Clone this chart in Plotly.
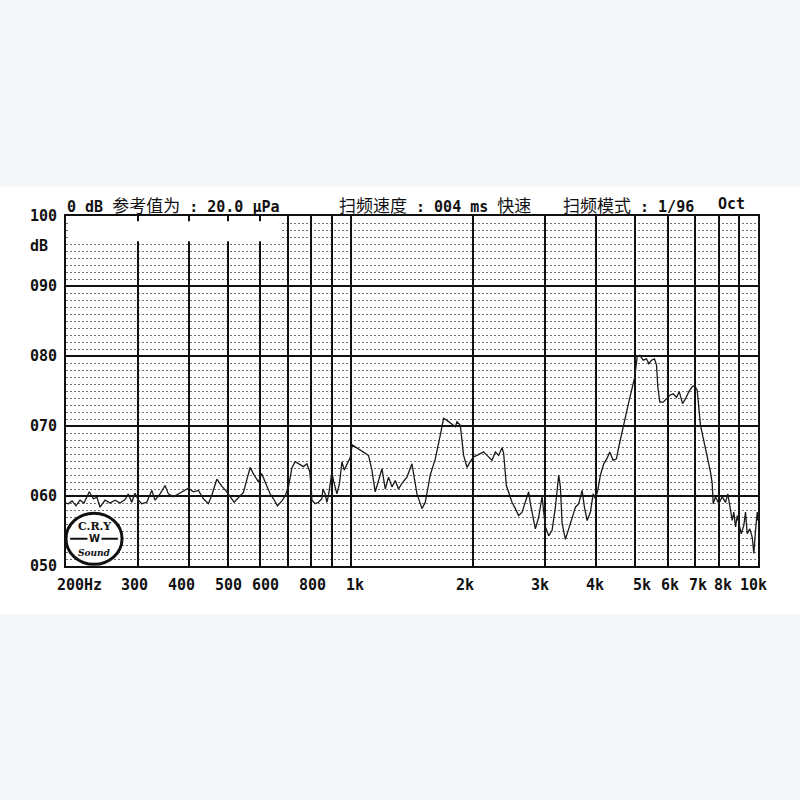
import math
import plotly.graph_objects as go

# ---------------- data ----------------
freq_hz = [
    200, 202.6, 206.9, 211.6, 216.5, 221.4, 228.2, 233.4, 238.3, 242.4,
    249.4, 256.5, 263.9, 271.5, 279.3, 284.5, 290.0, 295.5, 301.1, 306.9,
    315.7, 324.8, 330.9, 340.4, 350.2, 356.8, 367.0, 377.5, 388.4, 399.5,
    411.0, 422.7, 434.9, 447.3, 456.0, 469.1, 482.6, 496.4, 510.6, 517.3,
    545.3, 556.8, 566.4, 575.1, 582.6, 593.6, 604.4, 613.1, 622.5, 634.2,
    646.2, 661.0, 677.7, 690.4, 703.5, 717.1, 730.6, 751.6, 765.8, 780.7,
    793.2, 799.8, 803.0, 818.2, 833.6, 849.8, 854.6, 865.8, 874.1, 882.1,
    899.2, 907.4, 916.1, 925.0, 938.7, 951.5, 964.0, 978.8, 997.3, 1008.6,
    1025.9, 1055.3, 1085.6, 1106.1, 1127.5, 1148.8, 1170.5, 1193.2, 1215.7, 1238.6,
    1262.6, 1286.4, 1310.7, 1336.1, 1374.5, 1413.9, 1426.8, 1454.5, 1496.2, 1524.5,
    1568.2, 1613.2, 1659.5, 1690.8, 1723.6, 1773.0, 1806.4, 1823.9, 1858.3, 1893.3,
    1930.1, 1966.3, 2003.4, 2042.4, 2080.8, 2120.0, 2161.2, 2223.2, 2265.2, 2307.9,
    2352.6, 2374.0, 2410.6, 2442.2, 2489.6, 2536.6, 2584.4, 2634.6, 2684.2, 2735.0,
    2761.4, 2813.4, 2840.6, 2894.2, 2950.4, 3006.0, 3062.8, 3122.2, 3181.0, 3241.0,
    3272.4, 3304.0, 3366.4, 3429.8, 3496.4, 3562.4, 3629.4, 3699.8, 3748.4, 3806.0,
    3877.8, 3937.6, 3989.2, 4041.4, 4103.6, 4181.0, 4262.2, 4325.4, 4409.4, 4492.6,
    4551.4, 4639.8, 4727.4, 4816.6, 4910.0, 4982.8, 5051.0, 5126.0, 5225.6, 5324.2,
    5394.0, 5477.0, 5570.8, 5634.2, 5675.6, 5740.2, 5851.8, 5962.2, 6074.6, 6192.6,
    6309.4, 6406.6, 6527.4, 6639.2, 6764.4, 6895.6, 6982.8, 7090.4, 7154.8, 7224.0,
    7360.2, 7503.2, 7644.8, 7718.6, 7762.4, 7864.2, 8012.4, 8168, 8322, 8431,
    8527, 8644, 8722, 8807, 8892, 8973, 9095, 9230, 9319, 9409,
    9549, 9679, 9767, 9862, 9957, 10000,
]
level_db = [
    59.0, 58.9, 59.3, 58.6, 59.4, 59.0, 60.6, 59.6, 59.8, 58.4,
    59.4, 59.0, 59.4, 59.0, 59.5, 60.3, 59.1, 60.4, 59.4, 58.9,
    59.1, 60.8, 59.4, 60.3, 61.5, 60.3, 59.9, 60.3, 60.6, 61.1,
    60.6, 60.8, 59.6, 58.9, 60.1, 62.4, 61.4, 60.6, 59.6, 59.1,
    60.5, 62.7, 64.1, 63.3, 62.7, 62.0, 63.2, 62.3, 61.4, 60.3,
    59.6, 58.6, 59.3, 60.0, 61.3, 64.0, 64.9, 64.5, 64.2, 64.6,
    63.5, 61.3, 59.4, 58.9, 59.1, 59.6, 61.0, 60.3, 59.1, 60.1,
    63.4, 62.2, 61.3, 60.3, 61.8, 64.9, 63.7, 64.6, 65.5, 67.3,
    67.0, 66.5, 66.1, 65.8, 63.7, 60.6, 62.2, 63.9, 61.0, 62.7,
    61.3, 62.2, 61.0, 61.8, 62.7, 64.6, 63.2, 60.3, 58.2, 59.1,
    63.0, 65.3, 68.7, 71.1, 70.8, 70.3, 69.9, 70.6, 70.1, 65.8,
    64.1, 64.9, 65.6, 65.8, 66.1, 66.3, 65.8, 65.1, 66.3, 65.8,
    66.9, 66.1, 61.5, 60.5, 59.1, 58.2, 57.2, 57.7, 59.1, 60.6,
    58.9, 56.1, 55.3, 57.0, 59.9, 55.6, 54.3, 55.1, 58.4, 63.0,
    61.3, 56.1, 53.8, 55.3, 57.0, 58.4, 58.9, 60.8, 58.4, 56.5,
    57.7, 60.3, 59.6, 60.8, 63.0, 64.6, 65.4, 66.3, 65.1, 65.3,
    67.0, 69.4, 71.3, 73.4, 75.3, 77.0, 79.9, 80.1, 79.4, 79.6,
    78.9, 79.4, 79.6, 78.7, 75.6, 73.4, 73.4, 73.9, 74.4, 74.6,
    74.1, 74.9, 73.2, 73.9, 74.9, 75.6, 75.8, 75.1, 72.7, 70.1,
    67.9, 65.8, 63.4, 61.8, 58.9, 59.9, 58.9, 59.9, 59.1, 60.3,
    58.4, 56.5, 57.7, 55.6, 57.2, 56.3, 54.6, 55.8, 57.7, 54.6,
    55.3, 54.1, 51.8, 55.1, 57.7, 56.5,
]

x_grid_hz = [200, 300, 400, 500, 600, 700, 800, 900,
             1000, 2000, 3000, 4000, 5000, 6000, 7000, 8000, 9000, 10000]
x_label_hz = [200, 300, 400, 500, 600, 800, 1000, 2000, 3000, 4000,
              5000, 6000, 7000, 8000, 10000]
x_label_text = ["200Hz", "300", "400", "500", "600", "800", "1k", "2k", "3k", "4k",
                "5k", "6k", "7k", "8k", "10k"]
y_tick_vals = [50, 60, 70, 80, 90, 100]
y_tick_text = ["050", "060", "070", "080", "090", "100"]

# ---------------- styling ----------------
MONO = "DejaVu Sans Mono, Liberation Mono, monospace"
CJK_SPAN = "<span style=\"font-size:17px;font-weight:normal;font-family:'Noto Sans CJK SC'\">{}</span>"
label_font = dict(family=MONO, size=15, color="#111111", weight="bold")
label_xshift = {200: 13, 300: -3, 400: -7, 500: 0, 600: 5, 800: 1, 1000: 4,
                2000: -8, 3000: -5, 4000: -1, 5000: 7, 6000: 2, 7000: 3,
                8000: 4, 10000: -5}

fig = go.Figure()
fig.add_trace(go.Scatter(
    x=freq_hz, y=level_db, mode="lines",
    line=dict(color="#1a1a1a", width=1.3),
    hoverinfo="skip", showlegend=False,
))

annotations = []
for hz, txt in zip(x_label_hz, x_label_text):
    annotations.append(dict(
        x=math.log10(hz), xref="x", y=0, yref="paper", yshift=-19,
        text=txt, showarrow=False, xanchor="center", yanchor="middle",
        xshift=label_xshift[hz], font=label_font,
    ))

annotations.append(dict(x=-0.055, xref="paper", y=0.913, yref="paper", text="dB",
                        showarrow=False, xanchor="left", yanchor="middle", font=label_font))

header = [
    (-0.002, "0 dB " + CJK_SPAN.format("参考值为") + " : 20.0 μPa"),
    (0.391, CJK_SPAN.format("扫频速度") + " : 004 ms " + CJK_SPAN.format("快速")),
    (0.716, CJK_SPAN.format("扫频模式") + " : 1/96"),
    (0.940, "Oct"),
]
for xp, txt in header:
    annotations.append(dict(x=xp, xref="paper", y=1, yref="paper", yshift=12,
                            text=txt, showarrow=False, xanchor="left", yanchor="middle",
                            font=label_font))

# logo texts
logo_x = 0.0405
annotations.append(dict(x=logo_x, xref="paper", y=0.112, yref="paper", text="<b>C.R.Y</b>",
                        showarrow=False, xanchor="center", yanchor="middle",
                        font=dict(family="DejaVu Serif", size=11, color="#111")))
annotations.append(dict(x=logo_x, xref="paper", y=0.078, yref="paper", text="<b>W</b>",
                        showarrow=False, xanchor="center", yanchor="middle",
                        font=dict(family="DejaVu Sans", size=10, color="#111"),
                        bgcolor="white"))
annotations.append(dict(x=logo_x, xref="paper", y=0.036, yref="paper", text="<b><i>Sound</i></b>",
                        showarrow=False, xanchor="center", yanchor="middle",
                        font=dict(family="DejaVu Serif", size=9, color="#111")))

shapes = [
    # white band behind the chart
    dict(type="rect", xref="paper", yref="paper", x0=-0.12, x1=1.12, y0=-0.138, y1=1.085,
         fillcolor="white", line=dict(width=0), layer="below"),
    # blank header area inside the plot (top-left)
    dict(type="rect", xref="paper", yref="paper", x0=0.003, x1=0.309, y0=0.928, y1=0.985,
         fillcolor="white", line=dict(width=0), layer="above"),
    # logo
    dict(type="circle", xref="paper", yref="paper", x0=0.0, x1=0.081, y0=0.005, y1=0.151,
         fillcolor="white", line=dict(color="#111", width=3), layer="above"),
    dict(type="line", xref="paper", yref="paper", x0=0.006, x1=0.075, y0=0.078, y1=0.078,
         line=dict(color="#111", width=2), layer="above"),
]

fig.update_layout(
    width=800, height=800,
    margin=dict(l=66, r=42, t=216, b=234),
    paper_bgcolor="#f5f6f8", plot_bgcolor="white",
    showlegend=False,
    xaxis=dict(
        type="log", range=[math.log10(200), 4],
        tickvals=x_grid_hz, showticklabels=False, ticks="",
        showgrid=True, gridcolor="#111111", gridwidth=2,
        showline=True, linecolor="#111111", linewidth=2, mirror=True,
        zeroline=False,
    ),
    yaxis=dict(
        range=[50, 100], tickvals=y_tick_vals, ticktext=y_tick_text,
        tickfont=label_font, ticks="", ticklabelstandoff=4,
        showgrid=True, gridcolor="#111111", gridwidth=1.8,
        minor=dict(dtick=1, tick0=50, showgrid=True, gridcolor="#6f6f6f",
                   gridwidth=1, griddash="2px,2px"),
        showline=True, linecolor="#111111", linewidth=2, mirror=True,
        zeroline=False,
    ),
    annotations=annotations,
    shapes=shapes,
)

fig.write_html("out.html",
               config={"displayModeBar": False, "staticPlot": True},
               post_script="document.body.style.margin='0px';document.body.style.background='#f5f6f8';")
